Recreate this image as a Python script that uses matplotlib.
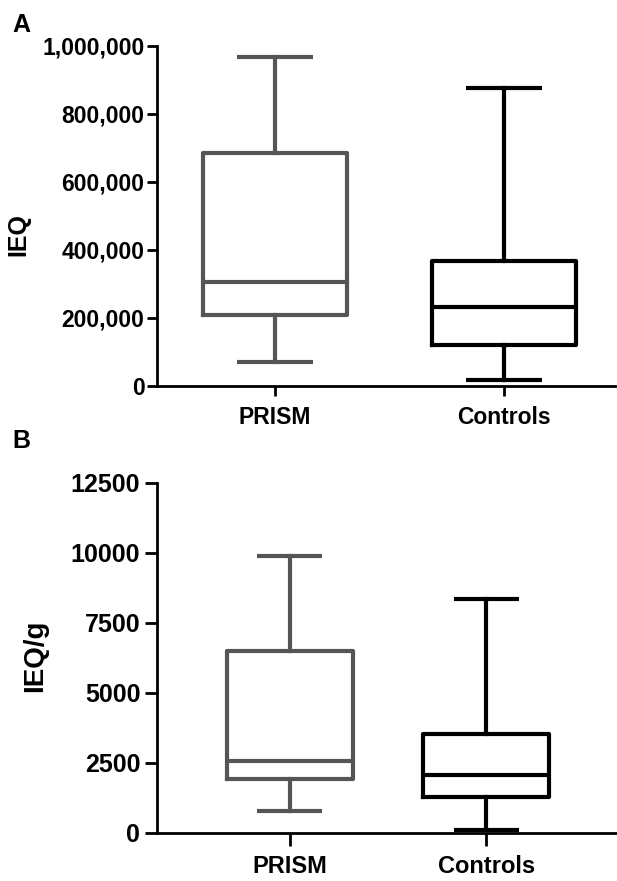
import matplotlib
matplotlib.use("Agg")
import matplotlib.pyplot as plt
from matplotlib.ticker import FuncFormatter

plt.rcParams['font.family'] = ['Liberation Sans', 'DejaVu Sans']
plt.rcParams['font.weight'] = 'bold'

groups = ["PRISM", "Controls"]
colors = ["#555555", "#000000"]

# Panel A: IEQ  (whislo, q1, med, q3, whishi)
ieq_low = [71000, 18000]
ieq_q1 = [209000, 121000]
ieq_med = [306000, 232000]
ieq_q3 = [685000, 368000]
ieq_high = [968000, 876000]

# Panel B: IEQ/g
ieqg_low = [790, 110]
ieqg_q1 = [1930, 1290]
ieqg_med = [2570, 2070]
ieqg_q3 = [6500, 3540]
ieqg_high = [9890, 8360]

yticks_a = [0, 200000, 400000, 600000, 800000, 1000000]
yticks_b = [0, 2500, 5000, 7500, 10000, 12500]

W, H = 617, 881
fig = plt.figure(figsize=(W / 100, H / 100), dpi=100)
axA = fig.add_axes([157 / W, 1 - 386 / H, 459 / W, 340 / H])
axB = fig.add_axes([157 / W, 1 - 833 / H, 459 / W, 350 / H])


def draw(ax, low, q1, med, q3, high, xlim, ylim, yticks, fmt, width, capw,
         ytick_fs, xtick_fs, ticklen, ypad, xpad):
    for i, g in enumerate(groups):
        stats = [dict(whislo=low[i], q1=q1[i], med=med[i], q3=q3[i], whishi=high[i], label=g)]
        c = colors[i]
        lw = 3.0
        ax.bxp(stats, positions=[i + 1], widths=width, showfliers=False,
               capwidths=capw,
               boxprops=dict(color=c, linewidth=lw),
               medianprops=dict(color=c, linewidth=lw),
               whiskerprops=dict(color=c, linewidth=lw),
               capprops=dict(color=c, linewidth=lw, solid_capstyle='butt'))
    ax.set_xlim(*xlim)
    ax.set_ylim(*ylim)
    ax.set_yticks(yticks)
    ax.yaxis.set_major_formatter(FuncFormatter(fmt))
    ax.set_xticks([1, 2])
    ax.set_xticklabels(groups)
    for s in ['top', 'right']:
        ax.spines[s].set_visible(False)
    for s in ['left', 'bottom']:
        ax.spines[s].set_linewidth(2.0)
    ax.tick_params(axis='both', direction='out', length=ticklen, width=2.0)
    ax.tick_params(axis='y', labelsize=ytick_fs, pad=ypad)
    ax.tick_params(axis='x', labelsize=xtick_fs, pad=xpad)
    for lab in ax.get_xticklabels() + ax.get_yticklabels():
        lab.set_fontweight('bold')


draw(axA, ieq_low, ieq_q1, ieq_med, ieq_q3, ieq_high, (0.485, 2.49), (0, 1000000),
     yticks_a, lambda v, p: f"{int(v):,}", 0.63, 0.33, 16.5, 16.5, 7.5, 1.5, 7)
draw(axB, ieqg_low, ieqg_q1, ieqg_med, ieqg_q3, ieqg_high, (0.325, 2.66), (0, 12500),
     yticks_b, lambda v, p: f"{int(v)}", 0.64, 0.33, 18, 17, 9, 3, 7)

fig.text(18 / W, 1 - 235 / H, "IEQ", rotation=90, fontsize=18, fontweight='bold',
         ha='center', va='center')
fig.text(35 / W, 1 - 656 / H, "IEQ/g", rotation=90, fontsize=20, fontweight='bold',
         ha='center', va='center')

fig.text(21 / W, 1 - 25 / H, "A", fontsize=18, fontweight='bold', ha='center', va='center')
fig.text(21 / W, 1 - 441 / H, "B", fontsize=18, fontweight='bold', ha='center', va='center')

fig.savefig("out.png", dpi=100)
